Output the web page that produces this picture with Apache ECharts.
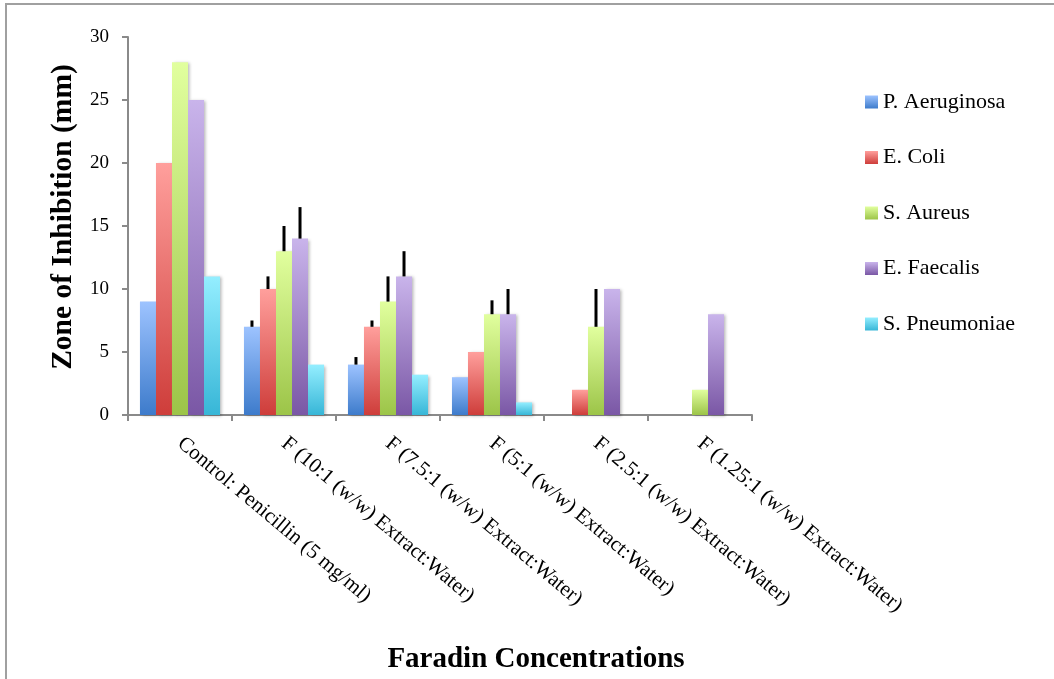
<!DOCTYPE html>
<html>
<head>
<meta charset="utf-8">
<script src="https://cdn.jsdelivr.net/npm/echarts@6/dist/echarts.min.js"></script>
<style>
html,body{margin:0;padding:0;background:#fff;}
#chart{width:1054px;height:679px;}
</style>
</head>
<body>
<div id="chart"></div>
<script>
var categories = [
  'Control: Penicillin (5 mg/ml)',
  'F (10:1 (w/w) Extract:Water)',
  'F (7.5:1 (w/w) Extract:Water)',
  'F (5:1 (w/w) Extract:Water)',
  'F (2.5:1 (w/w) Extract:Water)',
  'F (1.25:1 (w/w) Extract:Water)'
];
var seriesNames = ['P. Aeruginosa', 'E. Coli', 'S. Aureus', 'E. Faecalis', 'S. Pneumoniae'];
var pAeruginosa  = [9, 7, 4, 3, 0, 0];
var eColi        = [20, 10, 7, 5, 2, 0];
var sAureus      = [28, 13, 9, 8, 7, 2];
var eFaecalis    = [25, 14, 11, 8, 10, 8];
var sPneumoniae  = [11, 4, 3.2, 1, 0, 0];
var errPAeruginosa = [0, 0.5, 0.6, 0, 0, 0];
var errEColi       = [0, 1, 0.5, 0, 0, 0];
var errSAureus     = [0, 2, 2, 1.1, 3, 0];
var errEFaecalis   = [0, 2.5, 2, 2, 0, 0];
var errSPneumoniae = [0, 0, 0, 0, 0, 0];
var yTicks = { min: 0, max: 30, interval: 5 };

var values = [pAeruginosa, eColi, sAureus, eFaecalis, sPneumoniae];
var errors = [errPAeruginosa, errEColi, errSAureus, errEFaecalis, errSPneumoniae];
var gradients = [
  ['#9DC3FF', '#3D7BCB'],
  ['#FF9F9C', '#CE3D3A'],
  ['#E1FF9E', '#9CC448'],
  ['#C9B4EB', '#7A57A5'],
  ['#94EEFF', '#37B6D7']
];
var CAT_GAP = 0.23;
var FONT = '"Liberation Serif", "Times New Roman", serif';

var chart = echarts.init(document.getElementById('chart'), null, { renderer: 'canvas' });

var series = seriesNames.map(function (name, i) {
  return {
    name: name,
    type: 'bar',
    data: values[i],
    barGap: '0%',
    barCategoryGap: (CAT_GAP * 100) + '%',
    itemStyle: {
      color: new echarts.graphic.LinearGradient(0, 0, 0, 1, [
        { offset: 0, color: gradients[i][0] },
        { offset: 1, color: gradients[i][1] }
      ]),
      shadowColor: 'rgba(0,0,0,0.28)',
      shadowBlur: 3,
      shadowOffsetX: 2,
      shadowOffsetY: 1
    }
  };
});

var errData = [];
errors.forEach(function (arr, s) {
  arr.forEach(function (e, c) {
    if (e > 0) errData.push([c, values[s][c], e, s]);
  });
});

series.push({
  name: 'err',
  type: 'custom',
  data: errData,
  z: 5,
  renderItem: function (params, api) {
    var c = api.value(0), v = api.value(1), e = api.value(2), s = api.value(3);
    var base = api.coord([c, v]);
    var top = api.coord([c, v + e]);
    var band = api.size([1, 0])[0];
    var bw = band * (1 - CAT_GAP) / seriesNames.length;
    var x = base[0] + (s - (seriesNames.length - 1) / 2) * bw;
    return {
      type: 'line',
      shape: { x1: x, y1: base[1], x2: x, y2: top[1] },
      style: { stroke: '#000', lineWidth: 3 }
    };
  }
});

chart.setOption({
  animation: false,
  backgroundColor: '#fff',
  grid: { left: 128, right: 302, top: 37, bottom: 264, containLabel: false },
  legend: {
    data: seriesNames,
    orient: 'vertical',
    left: 860,
    top: 86,
    itemWidth: 13,
    itemHeight: 13,
    itemGap: 33.5,
    icon: 'rect',
    textStyle: { fontFamily: FONT, fontSize: 22, color: '#000' }
  },
  xAxis: {
    type: 'category',
    data: categories,
    axisLine: { lineStyle: { color: '#8a8a8a', width: 2 } },
    axisTick: { show: true, length: 6, lineStyle: { color: '#8a8a8a', width: 2 } },
    axisLabel: {
      interval: 0,
      rotate: -40,
      margin: 26,
      fontFamily: FONT,
      fontSize: 21,
      color: '#000'
    }
  },
  yAxis: {
    type: 'value',
    min: yTicks.min,
    max: yTicks.max,
    interval: yTicks.interval,
    axisLine: { show: true, lineStyle: { color: '#8a8a8a', width: 2 } },
    axisTick: { show: true, length: 6, lineStyle: { color: '#8a8a8a', width: 2 } },
    splitLine: { show: false },
    axisLabel: { fontFamily: FONT, fontSize: 19, color: '#000', margin: 19 }
  },
  graphic: [
    {
      type: 'rect',
      shape: { x: 6, y: 4, width: 1200, height: 800 },
      style: { fill: null, stroke: '#a0a0a0', lineWidth: 2 },
      silent: true
    },
    {
      type: 'text',
      x: 536, y: 660,
      style: {
        text: 'Faradin Concentrations',
        font: 'bold 29px ' + FONT,
        fill: '#000',
        textAlign: 'center',
        textVerticalAlign: 'middle'
      }
    },
    {
      type: 'text',
      x: 63, y: 217,
      rotation: Math.PI / 2,
      style: {
        text: 'Zone of Inhibition (mm)',
        font: 'bold 29.5px ' + FONT,
        fill: '#000',
        textAlign: 'center',
        textVerticalAlign: 'middle'
      }
    }
  ],
  series: series
});
</script>
</body>
</html>
